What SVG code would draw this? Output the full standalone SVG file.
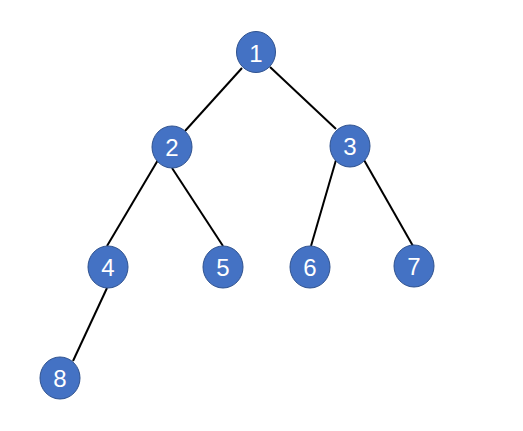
<svg xmlns="http://www.w3.org/2000/svg" width="523" height="431" viewBox="0 0 523 431">
<style>
.n{fill:#4472C4;stroke:#2F528F;stroke-width:1}
.t{fill:#fff;font-family:"Liberation Sans","Noto Sans",sans-serif;font-size:24px;text-anchor:middle;dominant-baseline:central}
.e{stroke:#000;stroke-width:2;fill:none}
</style>
<rect width="523" height="431" fill="#fff"/>
<g id="edges">
<line class="e" x1="242" y1="68" x2="185" y2="131"/>
<line class="e" x1="270" y1="67" x2="336" y2="129"/>
<line class="e" x1="158" y1="160" x2="107" y2="246"/>
<line class="e" x1="172" y1="168" x2="223" y2="246"/>
<line class="e" x1="336" y1="160" x2="311" y2="246"/>
<line class="e" x1="364" y1="160" x2="413" y2="246"/>
<line class="e" x1="107" y1="288" x2="73" y2="361"/>
</g>
<g id="n1"><ellipse class="n" cx="256" cy="52" rx="19.5" ry="20.5"/><text class="t" x="256" y="53">1</text></g>
<g id="n2"><ellipse class="n" cx="172" cy="147" rx="20" ry="21"/><text class="t" x="172" y="147">2</text></g>
<g id="n3"><ellipse class="n" cx="350" cy="146" rx="20" ry="21"/><text class="t" x="350" y="146">3</text></g>
<g id="n4"><ellipse class="n" cx="108" cy="267" rx="20" ry="21"/><text class="t" x="108" y="267">4</text></g>
<g id="n5"><ellipse class="n" cx="223" cy="267" rx="20" ry="21"/><text class="t" x="223" y="267">5</text></g>
<g id="n6"><ellipse class="n" cx="310" cy="267" rx="20" ry="21"/><text class="t" x="310" y="267">6</text></g>
<g id="n7"><ellipse class="n" cx="414" cy="266" rx="20" ry="21"/><text class="t" x="414" y="266">7</text></g>
<g id="n8"><ellipse class="n" cx="60" cy="378" rx="20" ry="21"/><text class="t" x="60" y="378">8</text></g>
</svg>
